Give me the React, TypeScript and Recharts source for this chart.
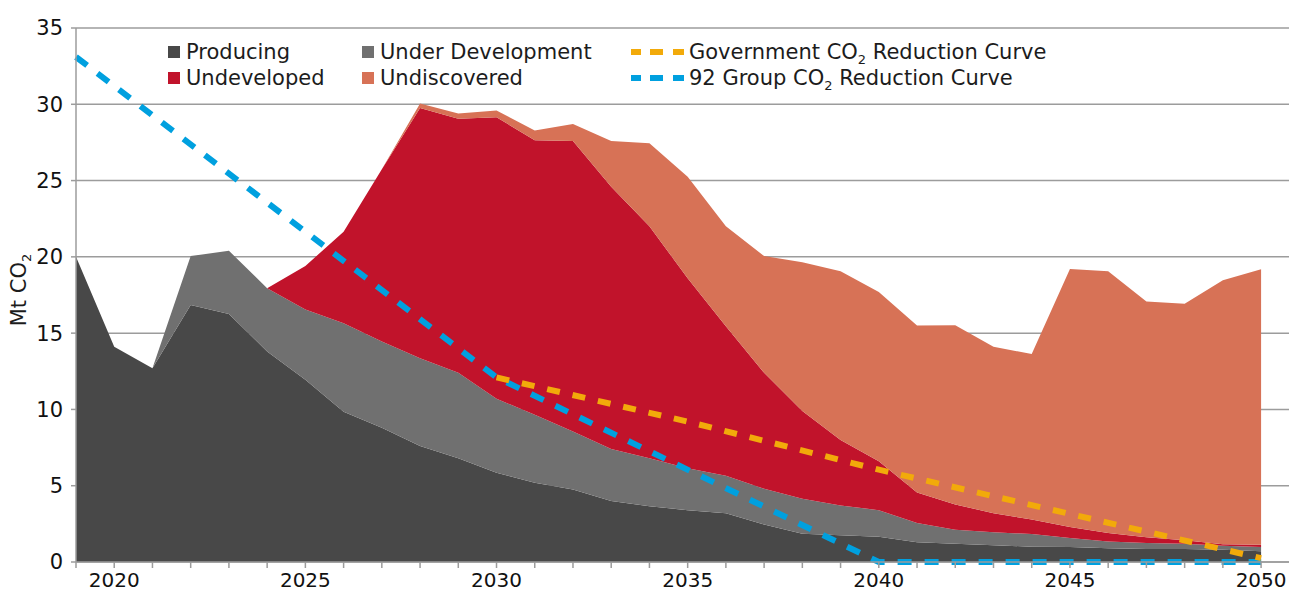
import React from 'react';
import { ComposedChart, Area, Line, XAxis, YAxis, CartesianGrid } from 'recharts';

const years = [2019, 2020, 2021, 2022, 2023, 2024, 2025, 2026, 2027, 2028, 2029, 2030, 2031, 2032, 2033, 2034, 2035, 2036, 2037, 2038, 2039, 2040, 2041, 2042, 2043, 2044, 2045, 2046, 2047, 2048, 2049, 2050];

const producing = [20, 14.1, 12.7, 16.85, 16.25, 13.8, 11.95, 9.85, 8.8, 7.6, 6.8, 5.85, 5.2, 4.75, 4.0, 3.65, 3.4, 3.2, 2.45, 1.85, 1.75, 1.65, 1.3, 1.2, 1.1, 1.0, 0.98, 0.9, 0.85, 0.85, 0.8, 0.7];

const underDevelopment = [0, 0, 0, 3.2, 4.15, 4.15, 4.6, 5.8, 5.65, 5.75, 5.6, 4.85, 4.45, 3.8, 3.4, 3.15, 2.75, 2.45, 2.35, 2.3, 1.95, 1.75, 1.25, 0.92, 0.85, 0.83, 0.6, 0.45, 0.4, 0.35, 0.27, 0.28];

const undeveloped = [0, 0, 0, 0, 0, 0, 2.85, 6.0, 11.3, 16.4, 16.65, 18.45, 18.0, 19.05, 17.2, 15.2, 12.45, 9.8, 7.6, 5.75, 4.3, 3.2, 2.0, 1.65, 1.25, 0.95, 0.72, 0.55, 0.37, 0.22, 0.1, 0.15];

const undiscovered = [0, 0, 0, 0, 0, 0, 0, 0, 0, 0.3, 0.35, 0.45, 0.63, 1.1, 3.0, 5.45, 6.65, 6.55, 7.65, 9.75, 11.05, 11.1, 10.95, 11.75, 10.9, 10.85, 16.9, 17.15, 15.45, 15.5, 17.3, 18.05];

const govCurve: (number | null)[] = [null, null, null, null, null, null, null, null, null, null, null, 12.1, null, null, null, null, 9.2, null, null, null, null, 6.05, null, null, null, null, 3.15, null, null, null, null, 0.25];

const group92Curve: (number | null)[] = [33.1, null, null, null, null, null, null, null, null, null, null, 12.1, null, null, null, null, null, null, null, null, null, 0, null, null, null, null, null, null, null, null, null, 0];

const yTicks = [0, 5, 10, 15, 20, 25, 30, 35];

const data = years.map((year, i) => ({
  year,
  producing: producing[i],
  underDevelopment: underDevelopment[i],
  undeveloped: undeveloped[i],
  undiscovered: undiscovered[i],
  gov: govCurve[i],
  group92: group92Curve[i],
}));

const FONT = '"DejaVu Sans", sans-serif';
const C_PROD = '#484848';
const C_UDEV = '#707070';
const C_UNDEV = '#c1132b';
const C_UNDISC = '#d77256';
const C_GOV = '#f2aa0a';
const C_BLUE = '#00a0df';
const GRID = '#9c9c9c';

const Square = ({ color, left, top }: { color: string; left: number; top: number }) => (
  <div style={{ position: 'absolute', left, top, width: 12, height: 12, background: color }} />
);

const DashIcon = ({ color, left, top }: { color: string; left: number; top: number }) => (
  <svg style={{ position: 'absolute', left, top }} width={53} height={6}>
    <line x1={0} y1={3} x2={53} y2={3} stroke={color} strokeWidth={6} strokeDasharray="10 9 13 10 11" />
  </svg>
);

const LegendText = ({ left, top, children }: { left: number; top: number; children: React.ReactNode }) => (
  <div style={{ position: 'absolute', left, top, fontFamily: FONT, fontSize: 21, lineHeight: '26px', color: '#1c1c1c', whiteSpace: 'nowrap' }}>
    {children}
  </div>
);

const Sub = ({ children }: { children: React.ReactNode }) => (
  <span style={{ fontSize: 13, position: 'relative', top: 5 }}>{children}</span>
);

export default function App() {
  return (
    <div style={{ position: 'absolute', left: 0, top: 0, width: 1289, height: 593, background: '#fff', overflow: 'hidden' }}>
      <ComposedChart width={1289} height={593} data={data} margin={{ top: 28, right: 0, left: 0, bottom: 0 }}>
        <CartesianGrid vertical={false} stroke={GRID} strokeWidth={1.5} />
        <XAxis
          dataKey="year"
          type="number"
          domain={[2019, 2050.73]}
          ticks={years}
          interval={0}
          tickFormatter={(v: number) => (v % 5 === 0 ? String(v) : '')}
          tick={{ fontSize: 20, fill: '#111', fontFamily: FONT }}
          tickSize={6}
          tickMargin={5}
          tickLine={{ stroke: GRID, strokeWidth: 1.5 }}
          axisLine={{ stroke: GRID, strokeWidth: 1.5 }}
          height={31}
        />
        <YAxis
          type="number"
          domain={[0, 35]}
          ticks={yTicks}
          interval={0}
          width={76}
          tick={{ fontSize: 21, fill: '#111', fontFamily: FONT }}
          tickSize={5}
          tickMargin={8}
          tickLine={{ stroke: GRID, strokeWidth: 1.5 }}
          axisLine={{ stroke: GRID, strokeWidth: 1.5 }}
        />
        <Area type="linear" dataKey="producing" stackId="a" fill={C_PROD} fillOpacity={1} stroke="none" isAnimationActive={false} />
        <Area type="linear" dataKey="underDevelopment" stackId="a" fill={C_UDEV} fillOpacity={1} stroke="none" isAnimationActive={false} />
        <Area type="linear" dataKey="undeveloped" stackId="a" fill={C_UNDEV} fillOpacity={1} stroke="none" isAnimationActive={false} />
        <Area type="linear" dataKey="undiscovered" stackId="a" fill={C_UNDISC} fillOpacity={1} stroke="none" isAnimationActive={false} />
        <Line type="linear" dataKey="group92" stroke={C_BLUE} strokeWidth={6} strokeDasharray="14 13" dot={false} activeDot={false} connectNulls isAnimationActive={false} />
        <Line type="linear" dataKey="gov" stroke={C_GOV} strokeWidth={6} strokeDasharray="13 13" dot={false} activeDot={false} connectNulls isAnimationActive={false} />
      </ComposedChart>

      <div style={{ position: 'absolute', left: -41, top: 277, width: 120, height: 26, lineHeight: '26px', textAlign: 'center', transform: 'rotate(-90deg)', fontFamily: FONT, fontSize: 21, color: '#1c1c1c', whiteSpace: 'nowrap' }}>
        Mt CO<Sub>2</Sub>
      </div>

      <Square color={C_PROD} left={168} top={46} />
      <LegendText left={186} top={39}>Producing</LegendText>
      <Square color={C_UNDEV} left={168} top={72} />
      <LegendText left={186} top={65}>Undeveloped</LegendText>

      <Square color={C_UDEV} left={362} top={46} />
      <LegendText left={380} top={39}>Under Development</LegendText>
      <Square color={C_UNDISC} left={362} top={72} />
      <LegendText left={380} top={65}>Undiscovered</LegendText>

      <DashIcon color={C_GOV} left={631} top={49} />
      <LegendText left={689} top={39}>Government CO<Sub>2</Sub> Reduction Curve</LegendText>
      <DashIcon color={C_BLUE} left={631} top={75} />
      <LegendText left={689} top={65}>92 Group CO<Sub>2</Sub> Reduction Curve</LegendText>
    </div>
  );
}
